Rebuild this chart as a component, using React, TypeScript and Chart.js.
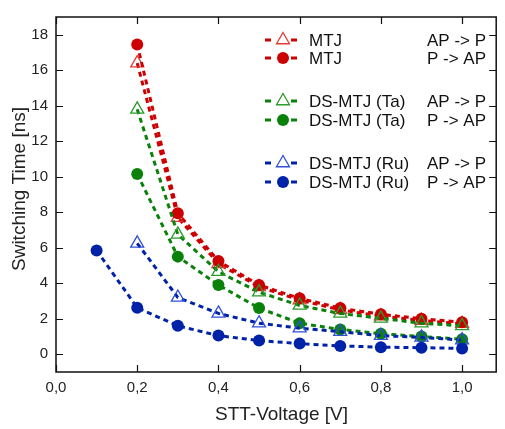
import React, { useEffect, useRef } from "react";
import { Chart, registerables } from "chart.js";

Chart.register(...registerables);

const voltages = [0.2, 0.3, 0.4, 0.5, 0.6, 0.7, 0.8, 0.9, 1.0];
const voltagesRu = [0.1, 0.2, 0.3, 0.4, 0.5, 0.6, 0.7, 0.8, 0.9, 1.0];

const mtjAPtoP = [16.4, 7.7, 5.1, 3.8, 3.05, 2.5, 2.15, 1.9, 1.72];
const mtjPtoAP = [17.45, 7.95, 5.25, 3.9, 3.15, 2.6, 2.25, 2.0, 1.8];
const taAPtoP = [13.8, 6.75, 4.65, 3.5, 2.75, 2.3, 2.02, 1.75, 1.6];
const taPtoAP = [10.15, 5.5, 3.9, 2.6, 1.75, 1.4, 1.15, 1.0, 0.85];
const ruAPtoP = [6.25, 3.2, 2.3, 1.75, 1.47, 1.27, 1.05, 0.95, 0.8];
const ruPtoAP = [5.85, 2.62, 1.6, 1.05, 0.77, 0.6, 0.47, 0.4, 0.37, 0.33];

const xTicks = [0, 0.2, 0.4, 0.6, 0.8, 1.0];
const yTicks = [0, 2, 4, 6, 8, 10, 12, 14, 16, 18];

const legendNames = ["MTJ", "MTJ", "DS-MTJ (Ta)", "DS-MTJ (Ta)", "DS-MTJ (Ru)", "DS-MTJ (Ru)"];
const legendDirections = ["AP -> P", "P -> AP", "AP -> P", "P -> AP", "AP -> P", "P -> AP"];

const xTitle = "STT-Voltage [V]";
const yTitle = "Switching Time [ns]";

const RED = "#cc0000";
const RED_T = "#e23a35";
const GREEN = "#0a820a";
const GREEN_T = "#2a9a2a";
const BLUE = "#0022a8";
const BLUE_T = "#3050d8";

const FONT = "'Liberation Sans', Arial, sans-serif";

const toPts = (xs: number[], ys: number[]) => ys.map((y, i) => ({ x: xs[i], y }));

type Series = { data: { x: number; y: number }[]; line: string; mark: string; filled: boolean };

const series: Series[] = [
  { data: toPts(voltages, mtjAPtoP), line: RED, mark: RED_T, filled: false },
  { data: toPts(voltages, mtjPtoAP), line: RED, mark: RED, filled: true },
  { data: toPts(voltages, taAPtoP), line: GREEN, mark: GREEN_T, filled: false },
  { data: toPts(voltages, taPtoAP), line: GREEN, mark: GREEN, filled: true },
  { data: toPts(voltages, ruAPtoP), line: BLUE, mark: BLUE_T, filled: false },
  { data: toPts(voltagesRu, ruPtoAP), line: BLUE, mark: BLUE, filled: true },
];

const legendRowsY = [40, 58, 101, 120, 163, 182];

const framePlugin = {
  id: "frameAndLegend",
  afterDraw(chart: any) {
    const ctx = chart.ctx as CanvasRenderingContext2D;
    const { left, right, top, bottom } = chart.chartArea;
    const xs = chart.scales.x;
    const ys = chart.scales.y;
    ctx.save();
    ctx.strokeStyle = "#111";
    ctx.lineWidth = 1.5;
    ctx.strokeRect(left, top, right - left, bottom - top);
    ctx.lineWidth = 1.2;
    const tl = 7;
    xTicks.forEach((v) => {
      const px = Math.round(xs.getPixelForValue(v)) + 0.5;
      ctx.beginPath();
      ctx.moveTo(px, bottom);
      ctx.lineTo(px, bottom - tl);
      ctx.moveTo(px, top);
      ctx.lineTo(px, top + tl);
      ctx.stroke();
    });
    yTicks.forEach((v) => {
      const py = Math.round(ys.getPixelForValue(v)) + 0.5;
      ctx.beginPath();
      ctx.moveTo(left, py);
      ctx.lineTo(left + tl, py);
      ctx.moveTo(right, py);
      ctx.lineTo(right - tl, py);
      ctx.stroke();
    });

    // axis titles
    ctx.fillStyle = "#222";
    ctx.font = `19px ${FONT}`;
    ctx.textAlign = "center";
    ctx.textBaseline = "middle";
    ctx.fillText(xTitle, 281.5, 415);
    ctx.save();
    ctx.translate(20, 189);
    ctx.rotate(-Math.PI / 2);
    ctx.fillText(yTitle, 0, 0);
    ctx.restore();

    // legend
    ctx.font = `17px ${FONT}`;
    ctx.textAlign = "left";
    series.forEach((s, i) => {
      const y = legendRowsY[i];
      const cx = 283;
      ctx.strokeStyle = s.line;
      ctx.lineWidth = 3;
      ctx.beginPath();
      ctx.moveTo(265, y);
      ctx.lineTo(271, y);
      ctx.moveTo(291, y);
      ctx.lineTo(297, y);
      ctx.stroke();
      if (s.filled) {
        ctx.fillStyle = s.mark;
        ctx.beginPath();
        ctx.arc(cx, y, 6, 0, Math.PI * 2);
        ctx.fill();
      } else {
        const r = 7.5;
        ctx.strokeStyle = s.mark;
        ctx.lineWidth = 1.3;
        ctx.fillStyle = "#fff";
        ctx.beginPath();
        ctx.moveTo(cx, y - r);
        ctx.lineTo(cx + r * 0.866, y + r * 0.5);
        ctx.lineTo(cx - r * 0.866, y + r * 0.5);
        ctx.closePath();
        ctx.fill();
        ctx.stroke();
      }
      ctx.fillStyle = "#111";
      ctx.fillText(legendNames[i], 309, y + 1);
      ctx.fillText(legendDirections[i], 427, y + 1);
    });
    ctx.restore();
  },
};

export default function App() {
  const ref = useRef<HTMLCanvasElement | null>(null);
  useEffect(() => {
    if (!ref.current) return;
    const datasets = series.map((s, i) => ({
      data: s.data,
      borderColor: s.line,
      borderWidth: 3,
      borderDash: [5, 4],
      pointStyle: s.filled ? "circle" : "triangle",
      pointRadius: s.filled ? 6 : 7.5,
      pointBackgroundColor: s.filled ? s.mark : "rgba(255,255,255,0)",
      pointBorderColor: s.mark,
      pointBorderWidth: s.filled ? 0 : 1.3,
      fill: false,
      tension: 0,
      order: 10 - i,
    }));
    const chart = new Chart(ref.current, {
      type: "line",
      data: { datasets: datasets as any },
      options: {
        animation: false,
        responsive: false,
        maintainAspectRatio: false,
        layout: { padding: { top: 10, right: 3, left: 0, bottom: 0 } },
        plugins: { legend: { display: false }, tooltip: { enabled: false } },
        scales: {
          x: {
            type: "linear",
            min: 0,
            max: 1.084,
            grid: { display: false, drawTicks: false },
            border: { display: false },
            afterBuildTicks: (scale: any) => {
              scale.ticks = xTicks.map((v) => ({ value: v }));
            },
            afterFit: (scale: any) => {
              scale.height = 57;
            },
            ticks: {
              padding: 7,
              color: "#222",
              font: { family: FONT, size: 15 },
              maxRotation: 0,
              autoSkip: false,
              callback: (v: any) => Number(v).toFixed(1).replace(".", ","),
            },
          },
          y: {
            type: "linear",
            min: -1,
            max: 19,
            grid: { display: false, drawTicks: false },
            border: { display: false },
            afterBuildTicks: (scale: any) => {
              scale.ticks = yTicks.map((v) => ({ value: v }));
            },
            afterFit: (scale: any) => {
              scale.width = 56;
            },
            ticks: {
              padding: 8,
              color: "#222",
              font: { family: FONT, size: 15 },
              autoSkip: false,
              callback: (v: any) => String(v),
            },
          },
        },
      },
      plugins: [framePlugin],
    });
    return () => chart.destroy();
  }, []);
  return (
    <div style={{ position: "absolute", left: 0, top: 0, width: 505, height: 429, background: "#fff" }}>
      <canvas ref={ref} width={505} height={429} style={{ width: 505, height: 429, display: "block" }} />
    </div>
  );
}
